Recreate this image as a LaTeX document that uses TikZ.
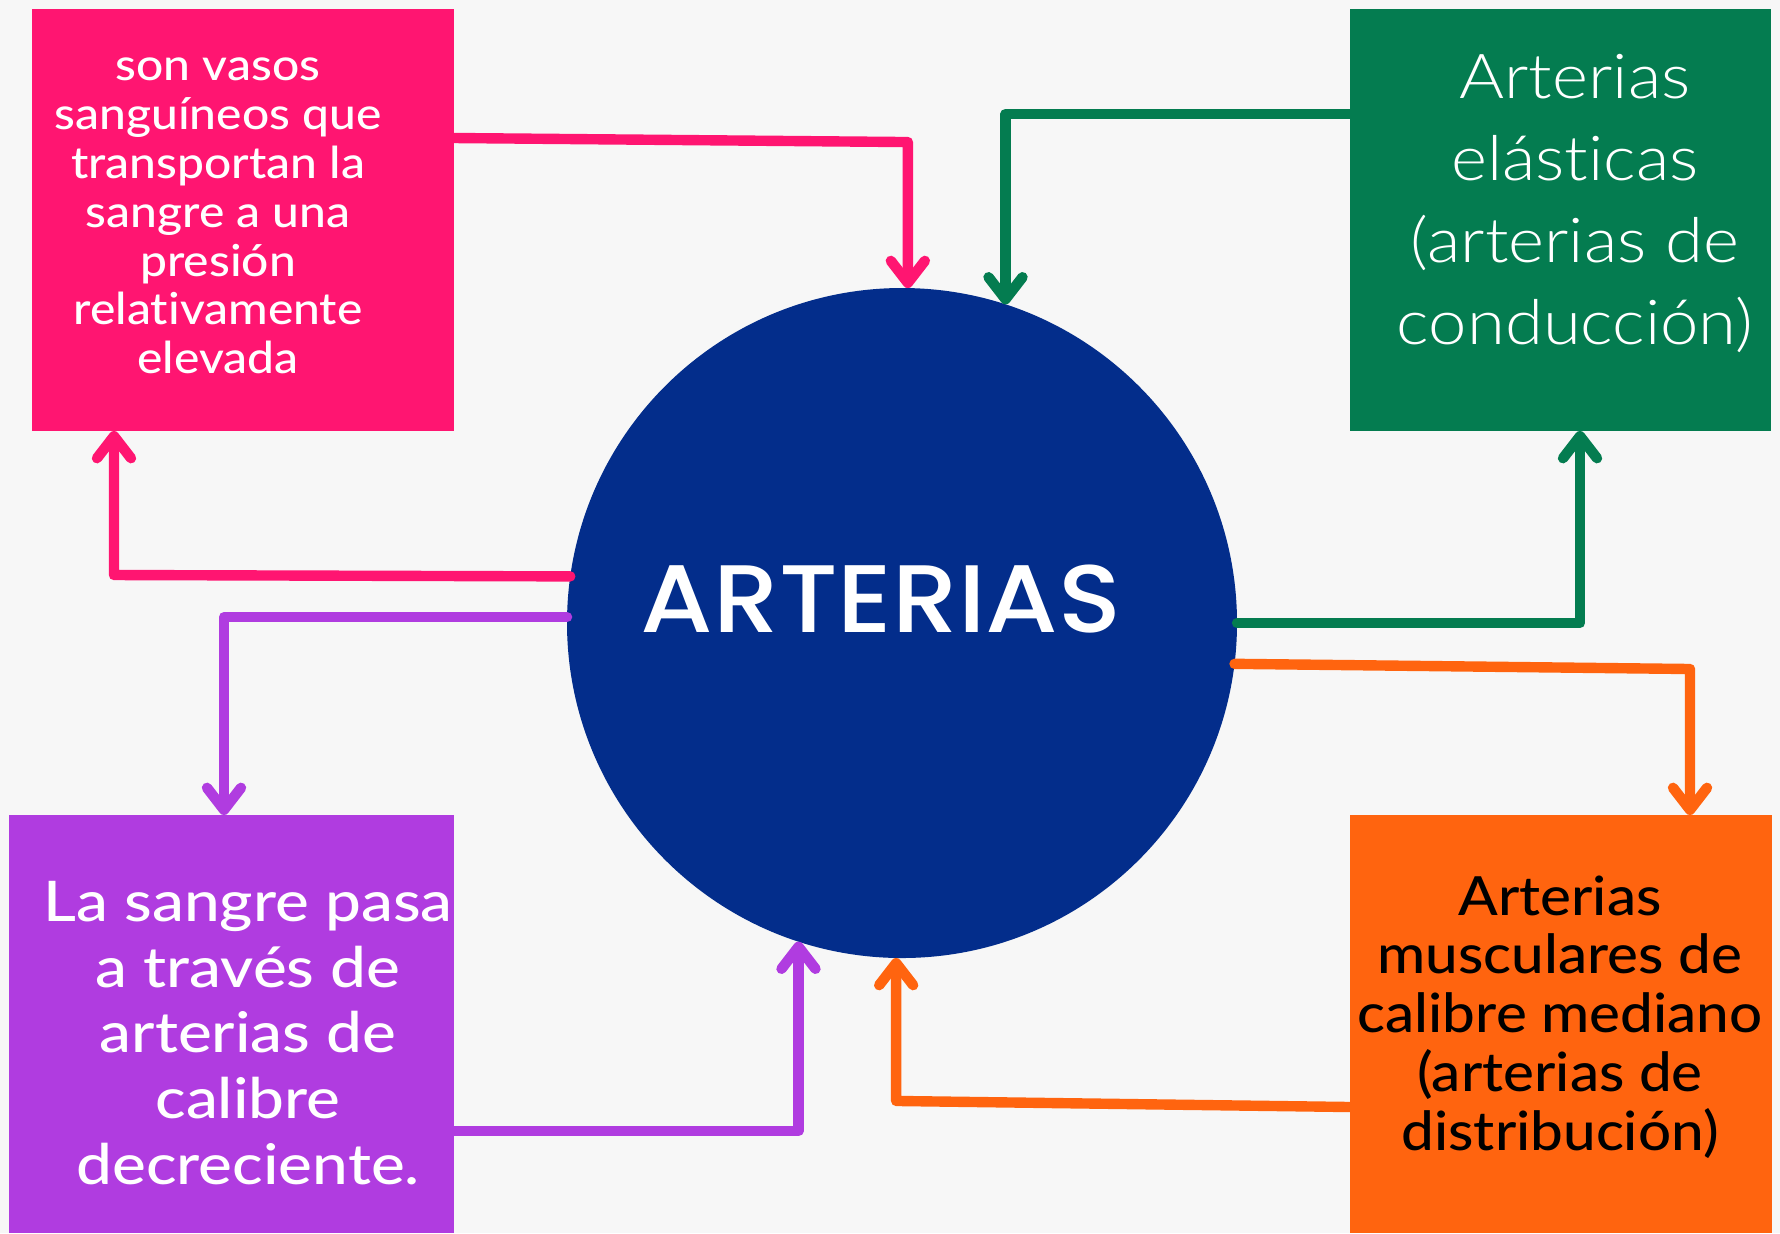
\documentclass[tikz,border=0pt]{standalone}
\usepackage{fontspec}
\usetikzlibrary{arrows.meta,calc}
\setmainfont{Lato}[Ligatures=CommonOff]
\IfFontExistsTF{Lato Medium}{\def\medname{Lato Medium}}{\def\medname{Lato}}
\IfFontExistsTF{Lato Light}{\def\thinname{Lato Light}}{\def\thinname{Lato}}
\IfFontExistsTF{Poppins Medium}{\def\titlename{Poppins Medium}}{\def\titlename{Poppins}}
\newfontfamily\pinkfont{\medname}[Ligatures=CommonOff,FakeStretch=1.09]
\newfontfamily\purplefont{\medname}[Ligatures=CommonOff,FakeStretch=1.14]
\newfontfamily\orangefont{\medname}[Ligatures=CommonOff,FakeStretch=1.08]
\newfontfamily\greenfont{\thinname}[Ligatures=CommonOff,FakeStretch=1.11]
\newfontfamily\titlefont{\titlename}[Ligatures=CommonOff,FakeStretch=1.085]
\definecolor{bgc}{HTML}{F7F7F7}
\definecolor{pinkc}{HTML}{FF1571}
\definecolor{greenc}{HTML}{047C50}
\definecolor{purplec}{HTML}{B03CE0}
\definecolor{orangec}{HTML}{FF640F}
\definecolor{navyc}{HTML}{032D8B}
\begin{document}
\begin{tikzpicture}[x=0.5pt,y=-0.5pt,
  box/.style={rectangle,inner sep=0pt,outer sep=0pt},
  conn/.style={line width=5.2pt,line cap=round,line join=round,-{Straight Barb[length=11pt,width=17pt,round]}},
  txt/.style={align=center,inner sep=0pt}]
\useasboundingbox (0,0) rectangle (1780,1233);
\fill[bgc] (0,0) rectangle (1780,1233);
\node[box,fill=pinkc,minimum width=211pt,minimum height=211pt] (pink) at (243,220) {};
\node[box,fill=greenc,minimum width=210.5pt,minimum height=211pt] (green) at (1560.5,220) {};
\node[box,fill=purplec,minimum width=222.5pt,minimum height=209pt] (purple) at (231.5,1024) {};
\node[box,fill=orangec,minimum width=211pt,minimum height=209pt] (orange) at (1561,1024) {};
\node[circle,fill=navyc,minimum size=335pt,inner sep=0pt,outer sep=0pt] (circ) at (902,623) {};
\node[txt,text=white,font=\titlefont\fontsize{48}{48}\selectfont] (title) at (881,599) {ARTERIAS};
\node[txt,text=white,font=\pinkfont\fontsize{22}{24.4}\selectfont] (pinkt) at (218,216)
  {son vasos\\sanguíneos que\\transportan la\\sangre a una\\presión\\relativamente\\elevada};
\node[txt,text=white,font=\greenfont\fontsize{31}{41}\selectfont] (greent) at (1575,203)
  {Arterias\\elásticas\\(arterias de\\conducción)};
\node[txt,text=white,font=\purplefont\fontsize{28}{32.8}\selectfont] (purplet) at (248,1033)
  {La sangre pasa\\a través de\\arterias de\\calibre\\decreciente.};
\node[txt,text=black,font=\orangefont\fontsize{27}{29.4}\selectfont] (oranget) at (1560,1017)
  {Arterias\\musculares de\\calibre mediano\\(arterias de\\distribución)};
\draw[conn,pinkc] ($(pink.north east)+(0,129)$) -- ($(circ.89)+(0,-146)$) -- (circ.89);
\draw[conn,pinkc] (circ.172.7) -- ($(pink.south west)+(82,144)$) -- ($(pink.south west)+(82,0)$);
\draw[conn,greenc] ($(green.north west)+(0,105)$) -| (circ.72);
\draw[conn,greenc] (circ.-0.7) -| ($(green.south west)+(230,0)$);
\draw[conn,orangec] (circ.-7.2) -- ($(orange.north west)+(340,-146)$) -- ($(orange.north west)+(340,0)$);
\draw[conn,orangec] ($(orange.north west)+(0,292)$) -- ($(circ.-91)+(0,143)$) -- (circ.-91);
\draw[conn,purplec] (circ.179) -| ($(purple.north west)+(215,0)$);
\draw[conn,purplec] ($(purple.north east)+(0,316)$) -| (circ.-108);
\end{tikzpicture}
\end{document}
